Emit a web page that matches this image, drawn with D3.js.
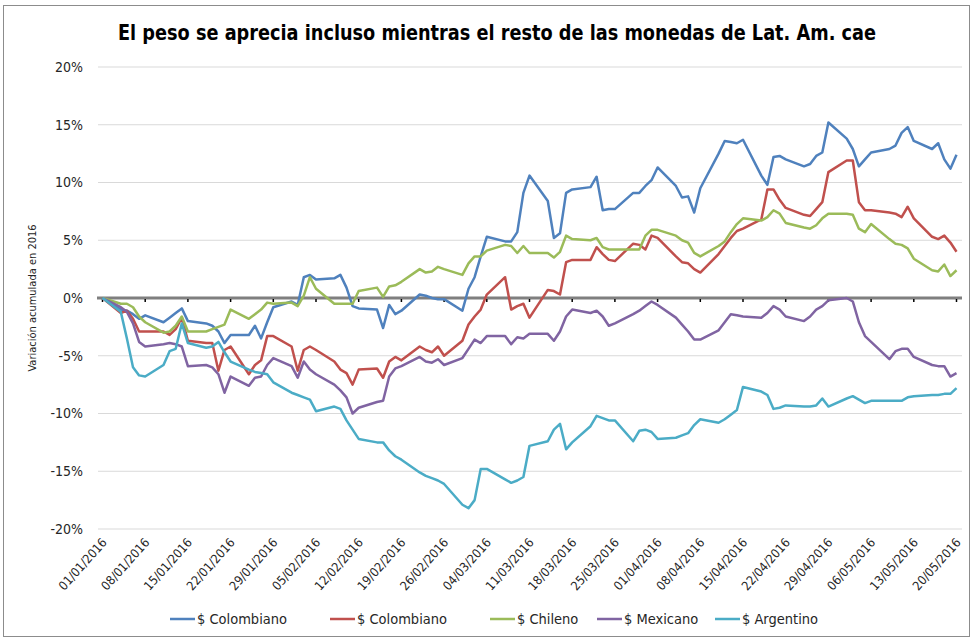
<!DOCTYPE html>
<html>
<head>
<meta charset="utf-8">
<script src="https://cdn.jsdelivr.net/npm/d3@7/dist/d3.min.js"></script>
<style>
  body { margin: 0; background: #fff; }
  svg { display: block; }
  .title { font-family: "Liberation Sans Narrow", "DejaVu Sans Condensed", "Arial Narrow", sans-serif; font-weight: bold; font-size: 22px; fill: #000; }
  .ytick, .xtick, .legend text, .ylabel { font-family: "Liberation Sans Narrow", "DejaVu Sans Condensed", sans-serif; fill: #262626; }
</style>
</head>
<body>
<svg id="chart" width="974" height="641"></svg>
<script>
// weekly tick labels of the date axis
const tickLabels = ["01/01/2016","08/01/2016","15/01/2016","22/01/2016","29/01/2016","05/02/2016",
  "12/02/2016","19/02/2016","26/02/2016","04/03/2016","11/03/2016","18/03/2016","25/03/2016",
  "01/04/2016","08/04/2016","15/04/2016","22/04/2016","29/04/2016","06/05/2016","13/05/2016","20/05/2016"];

const yTicks = [-20, -15, -10, -5, 0, 5, 10, 15, 20];

const seriesNames = ["$ Colombiano", "$ Colombiano", "$ Chileno", "$ Mexicano", "$ Argentino"];
const seriesColors = ["#4F81BD", "#C0504D", "#9BBB59", "#8064A2", "#4BACC6"];

// % accumulated change, one value per business day (01/01 ... 20/05)
const colombiano1 = [0,
  -1.0,-1.1,-1.4,-1.8,-1.5,  -2.1,-1.7,-1.3,-0.9,-2.0,  -2.2,-2.4,-2.9,-3.9,-3.2,  -3.2,-2.4,-3.5,-2.1,-0.8,
  -0.3,-0.6,1.8,2.0,1.6,  1.7,2.0,0.9,-0.7,-0.9,  -1.0,-2.6,-0.6,-1.4,-1.1,  0.3,0.2,0.0,-0.1,-0.1,
  -1.1,0.8,1.8,3.6,5.3,  4.9,4.9,5.7,9.1,10.6,  8.4,5.2,5.6,9.1,9.4,  9.6,10.5,7.6,7.7,7.7,
  9.1,9.1,9.7,10.2,11.3,  9.7,8.7,8.8,7.4,9.5,  12.5,13.6,13.5,13.4,13.7,  10.6,9.8,12.2,12.3,12.0,
  11.4,11.6,12.3,12.6,15.2,  13.8,12.9,11.4,12.0,12.6,  12.9,13.2,14.3,14.8,13.6,  12.9,13.4,12.0,11.2,12.4];

const colombiano2 = [0,
  -1.3,-1.1,-1.8,-2.9,-2.9,  -2.9,-3.2,-2.7,-1.7,-3.7,  -3.9,-3.9,-6.3,-4.5,-4.2,  -6.6,-5.8,-5.4,-3.3,-3.3,
  -4.2,-6.3,-4.5,-4.2,-4.5,  -5.5,-6.2,-6.5,-7.5,-6.2,  -6.1,-6.9,-5.5,-5.1,-5.4,  -4.2,-4.5,-4.7,-4.2,-5.0,
  -3.7,-2.3,-1.6,-1.0,0.3,  1.8,-1.0,-0.7,-0.5,-1.7,  0.7,0.6,0.3,3.1,3.3,  3.3,4.4,3.8,3.3,3.2,
  4.7,4.6,4.2,5.4,5.2,  3.6,3.1,3.0,2.5,2.2,  3.8,4.5,5.2,5.8,6.0,  6.8,9.4,9.4,8.5,7.8,
  7.2,7.1,7.7,8.3,10.9,  11.9,11.9,8.3,7.6,7.6,  7.4,7.3,7.0,7.9,6.9,  5.3,5.1,5.4,4.8,4.0];

const chileno = [0,
  -0.5,-0.5,-0.8,-1.6,-2.1,  -3.0,-2.9,-2.4,-1.6,-2.9,  -2.9,-2.7,-2.5,-2.3,-1.0,  -1.8,-1.4,-1.0,-0.4,-0.5,
  -0.4,-0.7,0.2,1.8,0.8,  -0.5,-0.5,-0.5,-0.5,0.6,  0.9,0.1,1.0,1.1,1.4,  2.5,2.2,2.3,2.7,2.5,
  2.0,3.0,3.6,3.6,4.1,  4.6,4.5,3.9,4.5,3.9,  3.9,3.5,4.0,5.4,5.1,  5.0,5.2,4.4,4.2,4.2,
  4.2,4.2,5.4,5.9,5.9,  5.4,5.0,4.8,3.9,3.6,  4.5,4.9,5.7,6.4,6.9,  6.7,7.0,7.6,7.3,6.5,
  6.1,6.0,6.3,6.9,7.3,  7.3,7.2,6.0,5.7,6.4,  5.1,4.7,4.6,4.3,3.4,  2.4,2.3,2.9,1.9,2.4];

const mexicano = [0,
  -0.8,-1.2,-2.2,-3.8,-4.2,  -4.0,-3.9,-4.0,-4.2,-5.9,  -5.8,-6.0,-6.6,-8.2,-6.8,  -7.6,-6.9,-6.8,-5.8,-5.2,
  -5.9,-6.9,-5.5,-6.2,-6.6,  -7.5,-8.0,-8.6,-10.0,-9.5,  -9.0,-8.9,-6.8,-6.1,-5.9,  -5.1,-5.5,-5.6,-5.3,-5.8,
  -5.2,-4.4,-3.6,-3.9,-3.3,  -3.3,-4.0,-3.4,-3.5,-3.1,  -3.1,-3.7,-2.9,-1.6,-1.0,  -1.3,-1.1,-1.6,-2.4,-2.2,
  -1.4,-1.1,-0.7,-0.3,-0.6,  -1.7,-2.3,-2.9,-3.6,-3.6,  -2.8,-2.1,-1.4,-1.5,-1.6,  -1.7,-1.3,-0.7,-1.0,-1.6,
  -2.0,-1.6,-1.0,-0.7,-0.2,  0.0,-0.3,-2.1,-3.3,-3.8,  -5.3,-4.6,-4.4,-4.4,-5.1,  -5.8,-5.9,-5.9,-6.8,-6.5];

const argentino = [0,
  -1.2,-3.5,-6.0,-6.7,-6.8,  -5.8,-4.6,-4.4,-2.2,-3.9,  -4.3,-4.2,-3.8,-4.7,-5.5,  -6.2,-6.4,-6.5,-6.6,-7.3,
  -8.2,-8.4,-8.6,-8.8,-9.8,  -9.4,-9.6,-10.6,-11.4,-12.2,  -12.5,-12.5,-13.2,-13.7,-14.0,  -15.1,-15.4,-15.6,-15.8,-16.1,
  -17.9,-18.2,-17.5,-14.8,-14.8,  -15.7,-16.0,-15.8,-15.5,-12.8,  -12.4,-11.4,-10.9,-13.1,-12.5,  -11.1,-10.2,-10.4,-10.6,-10.6,
  -12.4,-11.5,-11.4,-11.6,-12.2,  -12.1,-11.9,-11.7,-11.0,-10.5,  -10.8,-10.5,-10.1,-9.7,-7.7,  -8.1,-8.4,-9.6,-9.5,-9.3,
  -9.4,-9.4,-9.3,-8.7,-9.4,  -8.7,-8.5,-8.8,-9.1,-8.9,  -8.9,-8.9,-8.9,-8.6,-8.5,  -8.4,-8.4,-8.3,-8.3,-7.8];

const allSeries = [colombiano1, colombiano2, chileno, mexicano, argentino];

const parse = d3.timeParse("%d/%m/%Y");
const tickDates = tickLabels.map(parse);
// business days of the period
const dates = d3.timeDay.range(tickDates[0], d3.timeDay.offset(tickDates[tickDates.length - 1], 1))
  .filter(d => d.getDay() !== 0 && d.getDay() !== 6);

const svg = d3.select("#chart");

// frame
svg.append("rect").attr("x", 3.5).attr("y", 5.5).attr("width", 966).attr("height", 631)
  .attr("fill", "#fff").attr("stroke", "#8c8c8c").attr("stroke-width", 1);

const x = d3.scaleTime().domain([tickDates[0], tickDates[tickDates.length - 1]]).range([102.5, 956.5]);
const y = d3.scaleLinear().domain([-20, 20]).range([529, 67]);

// title
svg.append("text").attr("class", "title")
  .attr("x", 497).attr("y", 40).attr("text-anchor", "middle")
  .attr("textLength", 758).attr("lengthAdjust", "spacingAndGlyphs")
  .text("El peso se aprecia incluso mientras el resto de las monedas de Lat. Am. cae");

// gridlines
svg.append("g").selectAll("line").data(yTicks.filter(d => d !== 0)).join("line")
  .attr("x1", 98).attr("x2", 962)
  .attr("y1", d => y(d)).attr("y2", d => y(d))
  .attr("stroke", "#d9d9d9").attr("stroke-width", 1.2);

// y tick labels
svg.append("g").selectAll("text").data(yTicks).join("text")
  .attr("class", "ytick")
  .attr("x", 83).attr("y", d => y(d)).attr("dy", "0.35em")
  .attr("text-anchor", "end").attr("font-size", 14)
  .text(d => d + "%");

// y label
svg.append("text").attr("class", "ylabel")
  .attr("transform", `translate(36,${y(0)}) rotate(-90)`)
  .attr("text-anchor", "middle").attr("font-size", 11)
  .text("Variación acumulada en 2016");

// zero axis line with weekly ticks
svg.append("line").attr("x1", 97).attr("x2", 962)
  .attr("y1", y(0)).attr("y2", y(0))
  .attr("stroke", "#7f7f7f").attr("stroke-width", 3);
svg.append("g").selectAll("line").data(tickDates).join("line")
  .attr("x1", d => x(d)).attr("x2", d => x(d))
  .attr("y1", y(0) + 1).attr("y2", y(0) + 4)
  .attr("stroke", "#000").attr("stroke-width", 1.5);

// series
const line = d3.line().x((d, i) => x(dates[i])).y(d => y(d));
svg.append("g").selectAll("path").data(allSeries).join("path")
  .attr("d", d => line(d))
  .attr("fill", "none")
  .attr("stroke", (d, i) => seriesColors[i])
  .attr("stroke-width", 2.5)
  .attr("stroke-linejoin", "round");

// x tick labels
svg.append("g").selectAll("text").data(tickDates).join("text")
  .attr("class", "xtick")
  .attr("transform", d => `translate(${x(d) + 5},${543}) rotate(-48)`)
  .attr("text-anchor", "end").attr("font-size", 12.5)
  .text((d, i) => tickLabels[i]);

// legend
const legendX = [170, 330, 490, 597, 715];
const legend = svg.append("g").attr("class", "legend");
seriesNames.forEach((name, i) => {
  const g = legend.append("g").attr("transform", `translate(${legendX[i]},619)`);
  g.append("line").attr("x1", 0).attr("x2", 25).attr("y1", 0).attr("y2", 0)
    .attr("stroke", seriesColors[i]).attr("stroke-width", 2.5);
  g.append("text").attr("x", 27).attr("y", 0).attr("dy", "0.35em")
    .attr("font-size", 14.5).text(name);
});
</script>
</body>
</html>
